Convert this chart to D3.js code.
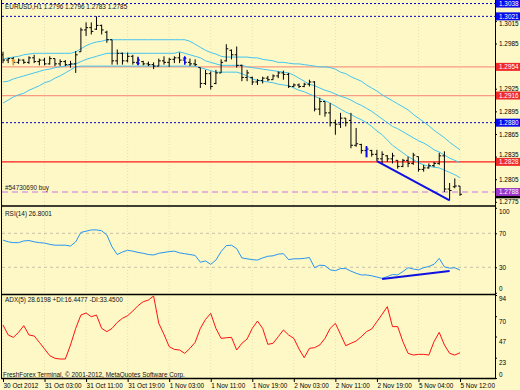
<!DOCTYPE html>
<html>
<head>
<meta charset="utf-8">
<script src="https://cdn.jsdelivr.net/npm/d3@7"></script>
<style>
  body { margin: 0; background: #fff; }
  svg text { font-family: "Liberation Sans", Arial, sans-serif; font-size: 6.4px; }
</style>
</head>
<body>
<svg id="chart" width="520" height="390"></svg>
<script>
// EURUSD H1 bars, 30 Oct 2012 19:00 .. 5 Nov 2012 12:00
const open = [1.2970,1.2963,1.2965,1.2960,1.2963,1.2960,1.2966,1.2961,1.2963,1.2958,
  1.2965,1.2958,1.2961,1.2957,1.2958,1.2974,1.3003,1.3006,1.3004,1.3009,
  1.3000,1.2990,1.2962,1.2972,1.2962,1.2968,1.2960,1.2961,1.2958,1.2957,
  1.2955,1.2962,1.2960,1.2964,1.2966,1.2963,1.2960,1.2958,1.2953,1.2932,
  1.2945,1.2932,1.2946,1.2962,1.2976,1.2970,1.2956,1.2940,1.2940,1.2934,
  1.2936,1.2939,1.2937,1.2942,1.2946,1.2944,1.2928,1.2930,1.2928,1.2931,
  1.2934,1.2898,1.2908,1.2893,1.2880,1.2878,1.2886,1.2883,1.2850,1.2851,
  1.2843,1.2843,1.2838,1.2832,1.2836,1.2832,1.2830,1.2822,1.2830,1.2826,
  1.2835,1.2818,1.2820,1.2823,1.2826,1.2836,1.2792,1.2795,1.2796];
const high = [1.2974,1.2966,1.2967,1.2965,1.2964,1.2968,1.2970,1.2965,1.2966,1.2968,
  1.2965,1.2964,1.2963,1.2962,1.2975,1.3006,1.3013,1.3013,1.3021,1.3010,
  1.3002,1.2990,1.2977,1.2973,1.2973,1.2970,1.2966,1.2962,1.2961,1.2960,
  1.2965,1.2968,1.2966,1.2968,1.2973,1.2966,1.2965,1.2964,1.2953,1.2950,
  1.2948,1.2950,1.2964,1.2984,1.2977,1.2981,1.2957,1.2950,1.2941,1.2938,
  1.2941,1.2942,1.2944,1.2948,1.2949,1.2946,1.2932,1.2932,1.2933,1.2937,
  1.2935,1.2913,1.2908,1.2906,1.2884,1.2893,1.2886,1.2893,1.2873,1.2852,
  1.2849,1.2844,1.2844,1.2842,1.2837,1.2840,1.2830,1.2832,1.2835,1.2840,
  1.2835,1.2824,1.2826,1.2828,1.2840,1.2842,1.2800,1.2806,1.2796];
const low = [1.2959,1.2959,1.2957,1.2958,1.2958,1.2958,1.2959,1.2956,1.2956,1.2957,
  1.2955,1.2955,1.2955,1.2953,1.2946,1.2974,1.2995,1.2997,1.3003,1.2997,
  1.2986,1.2957,1.2957,1.2957,1.2960,1.2957,1.2957,1.2956,1.2955,1.2951,
  1.2955,1.2957,1.2954,1.2959,1.2959,1.2958,1.2955,1.2955,1.2926,1.2930,
  1.2924,1.2931,1.2946,1.2961,1.2964,1.2953,1.2935,1.2935,1.2930,1.2930,
  1.2932,1.2935,1.2937,1.2939,1.2937,1.2926,1.2927,1.2926,1.2927,1.2928,
  1.2895,1.2890,1.2888,1.2875,1.2864,1.2873,1.2875,1.2846,1.2848,1.2839,
  1.2835,1.2835,1.2829,1.2826,1.2828,1.2826,1.2819,1.2821,1.2821,1.2824,
  1.2815,1.2815,1.2819,1.2821,1.2824,1.2788,1.2777,1.2793,1.2783];
const close = [1.2963,1.2965,1.2960,1.2963,1.2960,1.2966,1.2961,1.2963,1.2958,1.2965,
  1.2958,1.2961,1.2957,1.2958,1.2970,1.3003,1.3006,1.3001,1.3009,1.3003,
  1.2990,1.2962,1.2972,1.2962,1.2968,1.2960,1.2963,1.2958,1.2957,1.2955,
  1.2962,1.2960,1.2964,1.2966,1.2963,1.2960,1.2958,1.2957,1.2932,1.2945,
  1.2928,1.2946,1.2960,1.2978,1.2970,1.2956,1.2940,1.2946,1.2934,1.2936,
  1.2939,1.2937,1.2942,1.2946,1.2944,1.2928,1.2930,1.2928,1.2931,1.2934,
  1.2898,1.2908,1.2893,1.2880,1.2878,1.2886,1.2880,1.2850,1.2852,1.2843,
  1.2845,1.2838,1.2832,1.2838,1.2832,1.2836,1.2822,1.2830,1.2826,1.2837,
  1.2818,1.2820,1.2823,1.2826,1.2836,1.2792,1.2790,1.2796,1.2785];

// bands on the price window
const bandUpper = [1.2964,1.2966,1.2967,1.2968,1.2970,1.2971,1.2972,1.2972,1.2972,1.2972,
  1.2972,1.2972,1.2972,1.2972,1.2974,1.2978,1.2982,1.2985,1.2987,1.2988,
  1.2990,1.2990,1.2990,1.2990,1.2990,1.2990,1.2990,1.2990,1.2990,1.2990,
  1.2990,1.2990,1.2990,1.2990,1.2990,1.2990,1.2988,1.2984,1.2980,1.2976,
  1.2973,1.2971,1.2968,1.2967,1.2967,1.2967,1.2967,1.2967,1.2966,1.2966,
  1.2964,1.2963,1.2962,1.2960,1.2960,1.2959,1.2958,1.2958,1.2957,1.2956,
  1.2955,1.2954,1.2954,1.2953,1.2951,1.2947,1.2945,1.2941,1.2938,1.2935,
  1.2930,1.2926,1.2922,1.2917,1.2913,1.2909,1.2905,1.2901,1.2897,1.2891,
  1.2886,1.2881,1.2876,1.2870,1.2865,1.2860,1.2854,1.2849,1.2844];
const bandMiddle = [1.2934,1.2935,1.2938,1.2940,1.2942,1.2944,1.2946,1.2948,1.2950,1.2951,
  1.2953,1.2954,1.2955,1.2957,1.2958,1.2961,1.2964,1.2966,1.2968,1.2970,
  1.2972,1.2972,1.2972,1.2972,1.2972,1.2972,1.2972,1.2972,1.2972,1.2972,
  1.2972,1.2972,1.2972,1.2972,1.2974,1.2972,1.2970,1.2968,1.2966,1.2962,
  1.2960,1.2958,1.2956,1.2956,1.2956,1.2956,1.2956,1.2954,1.2953,1.2952,
  1.2951,1.2950,1.2949,1.2948,1.2947,1.2946,1.2943,1.2939,1.2935,1.2931,
  1.2929,1.2926,1.2923,1.2921,1.2918,1.2915,1.2913,1.2910,1.2906,1.2903,
  1.2899,1.2895,1.2890,1.2885,1.2880,1.2875,1.2872,1.2868,1.2864,1.2860,
  1.2856,1.2853,1.2849,1.2844,1.2841,1.2837,1.2833,1.2830,1.2827];
const bandLower = [1.2906,1.2910,1.2914,1.2917,1.2919,1.2923,1.2926,1.2929,1.2933,1.2935,
  1.2939,1.2942,1.2946,1.2950,1.2954,1.2955,1.2955,1.2955,1.2955,1.2955,
  1.2955,1.2955,1.2955,1.2955,1.2955,1.2955,1.2955,1.2955,1.2955,1.2955,
  1.2955,1.2955,1.2955,1.2955,1.2955,1.2955,1.2955,1.2955,1.2953,1.2951,
  1.2949,1.2947,1.2947,1.2947,1.2947,1.2947,1.2945,1.2942,1.2938,1.2936,
  1.2935,1.2934,1.2933,1.2931,1.2930,1.2929,1.2926,1.2923,1.2921,1.2918,
  1.2915,1.2912,1.2909,1.2906,1.2902,1.2898,1.2894,1.2891,1.2887,1.2884,
  1.2880,1.2875,1.2869,1.2864,1.2857,1.2850,1.2845,1.2840,1.2835,1.2831,
  1.2827,1.2824,1.2822,1.2821,1.2820,1.2817,1.2814,1.2811,1.2807];

const rsi = [62,60,59,59,61,61.5,60,59,58.5,57,56,56,56,55,60,71,72.5,74,74,73,
  68,54,45,48,50,49,47.5,46.5,45,44.5,46.5,47.5,48.5,49,47,46,45,44,36,37.5,
  33.5,38.5,48.5,55.5,56,52,41,40,39,38.5,41,43,43.5,45.5,46,39,40,40,40.5,41.5,
  29.5,32.5,32,27,26,28.5,28.5,25.5,23,21,21,20,18.5,17,19,21.5,21,25,29.5,28,
  27,29.5,31,33.5,40.5,30.5,29,29.5,26.8001];
const adx = [60,48.7,46,51.7,59.3,48.7,47.6,40.4,32.9,25.3,22.3,21.5,21.5,37.4,56.2,71.3,73.6,69.4,71.3,56.2,
  52.5,56.2,63,67.6,70.6,75.9,81.9,86.4,88.3,92.9,61.9,49.4,35.5,32.4,31.7,27.9,33.6,40.4,56.2,66.4,
  73.2,56.2,44.9,45.6,46,31.7,39.3,44.2,56.2,64.5,56.2,38.1,39.3,46.8,54.4,48.7,44.9,32.9,23,33.6,
  34.4,37.4,44.9,56.2,61.9,49.4,36.6,39.3,41.9,46.8,52.5,55.5,63.8,72.1,80.8,58.2,58.2,41.2,27.9,26,
  26.8,26.8,26,41.2,51.7,37.4,27.9,26,28.6198];
const plusDiLast = 16.4477, minusDiLast = 33.4500;

const timeLabels = ["30 Oct 2012","31 Oct 03:00","31 Oct 11:00","31 Oct 19:00","1 Nov 03:00",
  "1 Nov 11:00","1 Nov 19:00","2 Nov 03:00","2 Nov 11:00","2 Nov 19:00","5 Nov 04:00","5 Nov 12:00"];

const levelPrices = [1.3038, 1.3021, 1.2954, 1.2916, 1.2880, 1.2828, 1.2788];
const levelKinds  = ["blue", "blue", "salmon", "salmon", "blue", "red", "order"];
const bidPrice = 1.2785;
const orderText = "#54730690 buy";

const priceTicks = [1.3015, 1.2985, 1.2925, 1.2895, 1.2865, 1.2835, 1.2805, 1.2775];
const rsiTicks = [100, 70, 30, 0];
const rsiLevels = [70, 30];
const adxTicks = [94, 70, 47, 23, 0];

// trend lines: [bar, value]
const priceTrend = [[72, 1.2829], [86, 1.2777]];
const rsiTrend = [[73, 16.3], [86, 25.7]];

// trade arrows
const markBars = [2, 26, 35, 70];
const markPrices = [1.2960, 1.2962, 1.2962, 1.2842];
const markKinds = ["old", "down", "up", "close"];

const svg = d3.select("#chart");
const W = 520, H = 390, axisX = 495;
const bg = "#fdf8c6";

svg.append("rect").attr("width", W).attr("height", H).attr("fill", bg);

const n = open.length;
const x = d3.scaleLinear().domain([0, n - 1]).range([3, 460]);
const yMain = d3.scaleLinear().domain([1.27708, 1.30427]).range([205, 0]);
const yRsi = d3.scaleLinear().domain([0, 100]).range([292.8, 207.8]);
const yAdx = d3.scaleLinear().domain([0, 94]).range([378, 295]);

const defs = svg.append("defs");
function clip(id, y0, y1) {
  defs.append("clipPath").attr("id", id)
    .append("rect").attr("x", 2).attr("y", y0).attr("width", axisX - 2).attr("height", y1 - y0);
}
clip("cMain", 0, 205);
clip("cRsi", 207, 293.5);
clip("cAdx", 295.5, 378);

// vertical grid, barely visible
const gridIdx = d3.range(0, n, 8);
svg.append("g").selectAll("line").data(gridIdx).join("line")
  .attr("x1", d => x(d)).attr("x2", d => x(d))
  .attr("y1", 0).attr("y2", 378)
  .attr("stroke", "#e6dfb6").attr("stroke-dasharray", "1,2").attr("stroke-width", 1);

// main window
const gMain = svg.append("g").attr("clip-path", "url(#cMain)");

const levelStyle = {
  blue:   { stroke: "#0000c8", dash: "2,2", w: 1 },
  salmon: { stroke: "#f99a82", dash: null, w: 1.2 },
  red:    { stroke: "#ff1a1a", dash: null, w: 1.2 },
  order:  { stroke: "#dca0dc", dash: "6,4", w: 1.4 }
};
gMain.selectAll("line.level").data(levelPrices).join("line")
  .attr("class", "level")
  .attr("x1", 2).attr("x2", axisX)
  .attr("y1", d => yMain(d)).attr("y2", d => yMain(d))
  .attr("stroke", (d, i) => levelStyle[levelKinds[i]].stroke)
  .attr("stroke-width", (d, i) => levelStyle[levelKinds[i]].w)
  .attr("stroke-dasharray", (d, i) => levelStyle[levelKinds[i]].dash);

gMain.append("text").attr("x", 5).attr("y", yMain(levelPrices[6]) - 2.5)
  .attr("fill", "#222").text(orderText);

const bandLine = d3.line().x((d, i) => x(i)).y(d => yMain(d));
[bandUpper, bandMiddle, bandLower].forEach(b => {
  gMain.append("path").datum(b).attr("d", bandLine)
    .attr("fill", "none").attr("stroke", "#44c4f0").attr("stroke-width", 1);
});

const bars = gMain.append("g").attr("stroke", "#000").attr("stroke-width", 1);
d3.range(n).forEach(i => {
  const xi = x(i);
  bars.append("line").attr("x1", xi).attr("x2", xi).attr("y1", yMain(high[i])).attr("y2", yMain(low[i]));
  bars.append("line").attr("x1", xi - 2).attr("x2", xi).attr("y1", yMain(open[i])).attr("y2", yMain(open[i]));
  bars.append("line").attr("x1", xi).attr("x2", xi + 2).attr("y1", yMain(close[i])).attr("y2", yMain(close[i]));
});

gMain.append("line")
  .attr("x1", x(priceTrend[0][0])).attr("y1", yMain(priceTrend[0][1]))
  .attr("x2", x(priceTrend[1][0])).attr("y2", yMain(priceTrend[1][1]))
  .attr("stroke", "#1010e0").attr("stroke-width", 2);

markBars.forEach((b, i) => {
  const cx = x(b), cy = yMain(markPrices[i]);
  const kind = markKinds[i];
  const col = kind === "old" ? "#f09020" : "#0a0af0";
  if (kind === "close") {
    gMain.append("line").attr("x1", cx).attr("x2", cx).attr("y1", cy - 5).attr("y2", cy + 6)
      .attr("stroke", col).attr("stroke-width", 2);
    return;
  }
  const s = kind === "down" ? 1 : -1;
  const len = kind === "old" ? 3 : 4;
  gMain.append("line").attr("x1", cx).attr("x2", cx).attr("y1", cy - s * len).attr("y2", cy + s * len)
    .attr("stroke", col).attr("stroke-width", 1.5);
  gMain.append("path")
    .attr("d", `M${cx - 2},${cy + s * (len - 2)}L${cx + 2},${cy + s * (len - 2)}L${cx},${cy + s * (len + 1)}Z`)
    .attr("fill", col);
});

svg.append("text").attr("x", 5).attr("y", 8.5).attr("fill", "#111")
  .text(`EURUSD,H1  ${open[n - 1].toFixed(4)} ${high[n - 1].toFixed(4)} ${low[n - 1].toFixed(4)} ${close[n - 1].toFixed(4)}`);

// RSI window
const gRsi = svg.append("g").attr("clip-path", "url(#cRsi)");
gRsi.selectAll("line.lvl").data(rsiLevels).join("line")
  .attr("x1", 2).attr("x2", axisX).attr("y1", d => yRsi(d)).attr("y2", d => yRsi(d))
  .attr("stroke", "#c8c2a8").attr("stroke-dasharray", "3,3");
gRsi.append("path").datum(rsi)
  .attr("d", d3.line().x((d, i) => x(i)).y(d => yRsi(d)))
  .attr("fill", "none").attr("stroke", "#2894f0").attr("stroke-width", 1);
gRsi.append("line")
  .attr("x1", x(rsiTrend[0][0])).attr("y1", yRsi(rsiTrend[0][1]))
  .attr("x2", x(rsiTrend[1][0])).attr("y2", yRsi(rsiTrend[1][1]))
  .attr("stroke", "#1010e0").attr("stroke-width", 2);
svg.append("text").attr("x", 5).attr("y", 216).attr("fill", "#111")
  .text(`RSI(14) ${rsi[n - 1].toFixed(4)}`);

// ADX window
const gAdx = svg.append("g").attr("clip-path", "url(#cAdx)");
gAdx.append("path").datum(adx)
  .attr("d", d3.line().x((d, i) => x(i)).y(d => yAdx(d)))
  .attr("fill", "none").attr("stroke", "#ff1010").attr("stroke-width", 1);
svg.append("text").attr("x", 5).attr("y", 302).attr("fill", "#111")
  .text(`ADX(5) ${adx[n - 1].toFixed(4)} +DI:${plusDiLast.toFixed(4)} -DI:${minusDiLast.toFixed(4)}`);
svg.append("text").attr("x", 3).attr("y", 376.5).attr("fill", "#111")
  .text("FreshForex Terminal, © 2001-2012, MetaQuotes Software Corp.");

// frames
const frame = svg.append("g").attr("stroke", "#000");
frame.append("line").attr("x1", 1.5).attr("x2", 1.5).attr("y1", 0).attr("y2", 379);
frame.append("line").attr("x1", axisX + 0.5).attr("x2", axisX + 0.5).attr("y1", 0).attr("y2", 379);
[206, 294.5, 378.5].forEach(yy => {
  frame.append("line").attr("x1", 1).attr("x2", axisX + 1).attr("y1", yy).attr("y2", yy).attr("stroke-width", 1.6);
});

// right axes
function styleAxis(g) {
  g.select(".domain").remove();
  g.selectAll(".tick line").attr("stroke", "#000");
  g.selectAll(".tick text").attr("fill", "#000").style("font-family", "Liberation Sans, Arial, sans-serif").style("font-size", "6.4px");
}
const priceAxis = svg.append("g").attr("transform", `translate(${axisX},0)`)
  .call(d3.axisRight(yMain).tickValues(priceTicks).tickSize(2).tickPadding(2).tickFormat(d3.format(".4f")))
  .call(styleAxis);
// labels that sit right next to a level box are pushed clear of it
priceAxis.selectAll(".tick text").attr("dy", d => d === 1.3015 ? "0.7em" : d === 1.2835 ? "0.05em" : "0.32em");

const rsiAxis = svg.append("g").attr("transform", `translate(${axisX},0)`)
  .call(d3.axisRight(yRsi).tickValues(rsiTicks).tickSize(2).tickPadding(2).tickFormat(d3.format("d")))
  .call(styleAxis);
rsiAxis.selectAll(".tick text").attr("dy", d => d === 100 ? "0.95em" : d === 0 ? "-0.3em" : "0.32em");

const adxAxis = svg.append("g").attr("transform", `translate(${axisX},0)`)
  .call(d3.axisRight(yAdx).tickValues(adxTicks).tickSize(2).tickPadding(2).tickFormat(d3.format("d")))
  .call(styleAxis);
adxAxis.selectAll(".tick text").attr("dy", d => d === 94 ? "0.8em" : d === 0 ? "-0.3em" : "1.1em");

// level boxes on the price axis
const boxColor = { blue: "#0a0aee", salmon: "#f02a2a", red: "#f02a2a", order: "#9a34c8" };
const boxes = svg.append("g");
function priceBox(p, fill, withText) {
  const yy = yMain(p);
  boxes.append("rect").attr("x", axisX + 1).attr("y", yy - 4).attr("width", W - axisX - 1).attr("height", 8).attr("fill", fill);
  if (withText) boxes.append("text").attr("x", axisX + 4).attr("y", yy + 2.3).attr("fill", "#fff").text(p.toFixed(4));
}
// bid box sits under the order box, only its lower edge shows
priceBox(bidPrice, "#000", false);
levelPrices.forEach((p, i) => priceBox(p, boxColor[levelKinds[i]], true));

// time axis
const tAxis = svg.append("g").attr("transform", "translate(0,379)")
  .call(d3.axisBottom(x).tickValues(gridIdx).tickSize(3).tickPadding(1).tickFormat((d, i) => timeLabels[i]))
  .call(styleAxis);
tAxis.selectAll(".tick text").attr("text-anchor", "start").attr("dy", "0.75em");
</script>
</body>
</html>
